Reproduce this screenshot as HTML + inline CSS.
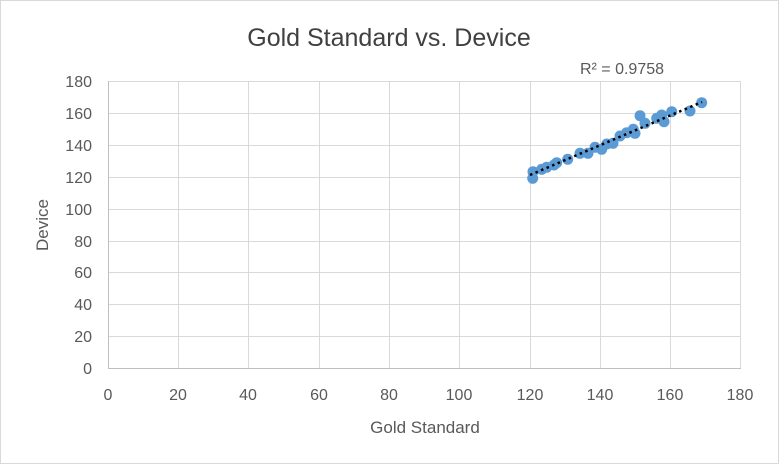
<!DOCTYPE html>
<html><head><style>body{margin:0;background:#fff}svg{display:block}</style></head><body>
<svg width="779" height="464" xmlns="http://www.w3.org/2000/svg" font-family="Liberation Sans, sans-serif">
<rect x="0.5" y="0.5" width="778" height="463" fill="#fff" stroke="#d9d9d9"/>
<g stroke="#d9d9d9" stroke-width="1">
<line x1="108" y1="81.5" x2="741" y2="81.5"/><line x1="108" y1="113.5" x2="741" y2="113.5"/><line x1="108" y1="145.5" x2="741" y2="145.5"/><line x1="108" y1="177.5" x2="741" y2="177.5"/><line x1="108" y1="209.5" x2="741" y2="209.5"/><line x1="108" y1="241.5" x2="741" y2="241.5"/><line x1="108" y1="272.5" x2="741" y2="272.5"/><line x1="108" y1="304.5" x2="741" y2="304.5"/><line x1="108" y1="336.5" x2="741" y2="336.5"/>
<line x1="178.5" y1="81" x2="178.5" y2="368"/><line x1="248.5" y1="81" x2="248.5" y2="368"/><line x1="319.5" y1="81" x2="319.5" y2="368"/><line x1="389.5" y1="81" x2="389.5" y2="368"/><line x1="459.5" y1="81" x2="459.5" y2="368"/><line x1="530.5" y1="81" x2="530.5" y2="368"/><line x1="600.5" y1="81" x2="600.5" y2="368"/><line x1="670.5" y1="81" x2="670.5" y2="368"/><line x1="740.5" y1="81" x2="740.5" y2="368"/>
</g>
<g stroke="#bfbfbf"><line x1="108.5" y1="81" x2="108.5" y2="368"/><line x1="108" y1="368.5" x2="741" y2="368.5"/></g>
<text x="389" y="46" font-size="25" fill="#404040" text-anchor="middle">Gold Standard vs. Device</text>
<g font-size="16" fill="#595959" text-anchor="end">
<text x="92" y="87">180</text><text x="92" y="119">160</text><text x="92" y="151">140</text><text x="92" y="183">120</text><text x="92" y="215">100</text><text x="92" y="247">80</text><text x="92" y="278">60</text><text x="92" y="310">40</text><text x="92" y="342">20</text><text x="92" y="374">0</text>
</g>
<g font-size="16" fill="#595959" text-anchor="middle">
<text x="108" y="400">0</text><text x="178" y="400">20</text><text x="248" y="400">40</text><text x="319" y="400">60</text><text x="389" y="400">80</text><text x="459" y="400">100</text><text x="530" y="400">120</text><text x="600" y="400">140</text><text x="670" y="400">160</text><text x="740" y="400">180</text>
</g>
<text x="425" y="433" font-size="17" fill="#595959" text-anchor="middle">Gold Standard</text>
<text transform="translate(48,225) rotate(-90)" font-size="17" fill="#595959" text-anchor="middle">Device</text>
<text x="622" y="74" font-size="16" fill="#595959" text-anchor="middle">R² = 0.9758</text>
<g fill="#5b9bd5">
<circle cx="532.7" cy="178.3" r="5.5"/><circle cx="533" cy="171.7" r="5.5"/><circle cx="541.7" cy="169.3" r="5.5"/><circle cx="546.7" cy="167.3" r="5.5"/><circle cx="554" cy="165" r="5.5"/><circle cx="556.7" cy="162.7" r="5.5"/><circle cx="567.7" cy="159.3" r="5.5"/><circle cx="580" cy="153.3" r="5.5"/><circle cx="588" cy="153.3" r="5.5"/><circle cx="595" cy="147.3" r="5.5"/><circle cx="601.7" cy="149.3" r="5.5"/><circle cx="606.7" cy="144" r="5.5"/><circle cx="613" cy="143.3" r="5.5"/><circle cx="620" cy="136" r="5.5"/><circle cx="626.7" cy="132.7" r="5.5"/><circle cx="635" cy="133.3" r="5.5"/><circle cx="633.3" cy="129.3" r="5.5"/><circle cx="640" cy="115.7" r="5.5"/><circle cx="645" cy="123.3" r="5.5"/><circle cx="656.7" cy="118.3" r="5.5"/><circle cx="664" cy="121.7" r="5.5"/><circle cx="661.7" cy="115" r="5.5"/><circle cx="671.7" cy="111.7" r="5.5"/><circle cx="690" cy="111" r="5.5"/><circle cx="701.7" cy="102.7" r="5.5"/>
</g>
<line x1="530" y1="175" x2="702" y2="102" stroke="#000" stroke-width="2.5" stroke-dasharray="2.5 3.5"/>
</svg>
</body></html>
